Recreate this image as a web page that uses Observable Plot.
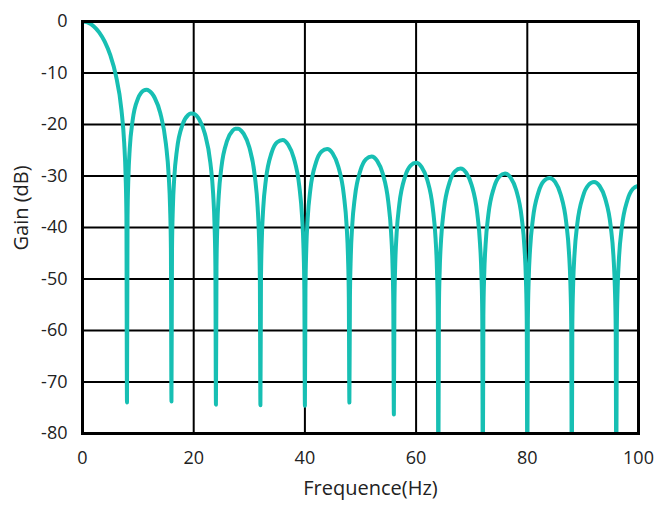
<!DOCTYPE html>
<html>
<head>
<meta charset="utf-8">
<script src="https://cdn.jsdelivr.net/npm/d3@7"></script>
<script src="https://cdn.jsdelivr.net/npm/@observablehq/plot@0.6"></script>
<style>
  html, body { margin: 0; padding: 0; background: #fff; }
</style>
</head>
<body>
<div id="chart"></div>
<script>
// Frequency (Hz) and gain (dB)
const freq = [
  0, 0.5, 1, 2, 3, 4, 5, 6, 7, 7.5, 7.75, 7.9,
  8, 8.1, 8.25, 8.5, 9, 10, 10.5, 11, 11.5, 12, 12.5, 13, 14, 15, 15.5, 15.75, 15.9,
  16, 16.1, 16.25, 16.5, 17, 18, 19, 19.5, 20, 20.5, 21, 22, 23, 23.5, 23.75, 23.9,
  24, 24.1, 24.25, 24.5, 25, 26, 27, 27.5, 28, 28.5, 29, 30, 31, 31.5, 31.75, 31.9,
  32, 32.1, 32.25, 32.5, 33, 34, 35, 36, 37, 38, 39, 39.5, 39.75, 39.9,
  40, 40.1, 40.25, 40.5, 41, 42, 43, 44, 45, 46, 47, 47.5, 47.75, 47.9,
  48, 48.1, 48.25, 48.5, 49, 50, 51, 52, 53, 54, 55, 55.5, 55.75, 55.9,
  56, 56.1, 56.25, 56.5, 57, 58, 59, 60, 61, 62, 63, 63.5, 63.75, 63.9,
  64, 64.1, 64.25, 64.5, 65, 66, 67, 68, 69, 70, 71, 71.5, 71.75, 71.9,
  72, 72.1, 72.25, 72.5, 73, 74, 75, 76, 77, 78, 79, 79.5, 79.75, 79.9,
  80, 80.1, 80.25, 80.5, 81, 82, 83, 84, 85, 86, 87, 87.5, 87.75, 87.9,
  88, 88.1, 88.25, 88.5, 89, 90, 91, 92, 93, 94, 95, 95.5, 95.75, 95.9,
  96, 96.1, 96.25, 96.5, 97, 98, 99, 100
];
const gain = [
  0, -0.06, -0.22, -0.91, -2.11, -3.92, -6.55, -10.45, -17.13, -23.58, -29.84, -37.95,
  -74.0, -38.17, -30.38, -24.66, -19.30, -14.89, -13.91, -13.40, -13.26, -13.46, -13.99, -14.85, -17.81, -23.74, -29.88, -36.00, -44.03,
  -73.8, -44.14, -36.27, -30.42, -24.83, -20.00, -18.15, -17.85, -17.90, -18.29, -19.01, -21.74, -27.45, -33.49, -39.56, -47.57,
  -74.4, -47.64, -39.74, -33.85, -28.18, -23.19, -21.20, -20.84, -20.82, -21.15, -21.82, -24.43, -30.05, -36.04, -42.08, -50.08,
  -74.5, -50.13, -42.22, -36.31, -30.59, -25.52, -23.45, -23.01, -23.93, -26.49, -32.04, -38.00, -44.04, -52.02,
  -74.6, -52.06, -44.15, -38.22, -32.48, -27.36, -25.24, -24.75, -25.63, -28.15, -33.66, -39.60, -45.63, -53.61,
  -74.0, -53.64, -45.72, -39.78, -34.02, -28.87, -26.72, -26.20, -27.06, -29.54, -35.03, -40.96, -46.97, -54.95,
  -76.3, -54.98, -47.05, -41.11, -35.34, -30.16, -27.99, -27.44, -28.28, -30.74, -36.21, -42.13, -48.14, -56.11,
  -90, -56.14, -48.21, -42.26, -36.48, -31.28, -29.09, -28.53, -29.35, -31.79, -37.25, -43.16, -49.17, -57.13,
  -90, -57.16, -49.23, -43.28, -37.49, -32.27, -30.07, -29.50, -30.30, -32.73, -38.17, -44.08, -50.08, -58.05,
  -90, -58.07, -50.14, -44.19, -38.39, -33.17, -30.95, -30.37, -31.16, -33.58, -39.01, -44.91, -50.92, -58.88,
  -90, -58.90, -50.96, -45.01, -39.21, -33.97, -31.75, -31.16, -31.94, -34.35, -39.77, -45.67, -51.67, -59.64,
  -90, -59.65, -51.72, -45.76, -39.96, -34.71, -32.48, -31.88
];
const xTicks = [0, 20, 40, 60, 80, 100];
const yTicks = [0, -10, -20, -30, -40, -50, -60, -70, -80];
const xGrid = [20, 40, 60, 80];
const yGrid = [-10, -20, -30, -40, -50, -60, -70];
const xTitle = "Frequence(Hz)";
const yTitle = "Gain (dB)";

const data = freq.map((f, i) => ({f, g: gain[i]}));

const chart = Plot.plot({
  width: 663,
  height: 505,
  marginLeft: 82,
  marginRight: 25,
  marginTop: 21,
  marginBottom: 72,
  style: {fontFamily: "'Open Sans', Roboto, sans-serif", fontSize: "18px", color: "#222", background: "#fff"},
  x: {domain: [0, 100]},
  y: {domain: [-80, 0]},
  marks: [
    Plot.gridX(xGrid, {stroke: "#000", strokeOpacity: 1, strokeWidth: 2}),
    Plot.gridY(yGrid, {stroke: "#000", strokeOpacity: 1, strokeWidth: 2}),
    Plot.line(data, {x: "f", y: "g", stroke: "#17bfb3", strokeWidth: 4, curve: "monotone-x", clip: true}),
    Plot.frame({stroke: "#000", strokeWidth: 3}),
    Plot.axisX(xTicks, {tickSize: 0, tickPadding: 18, label: null, fontSize: 18}),
    Plot.axisY(yTicks, {tickSize: 0, tickPadding: 15, label: null, fontSize: 18, tickFormat: d => String(d)}),
    Plot.text([xTitle], {text: d => d, frameAnchor: "bottom", dx: 10, dy: 61, fontSize: 20, fill: "#222"}),
    Plot.text([yTitle], {text: d => d, frameAnchor: "left", dx: -61, dy: 23, rotate: -90, fontSize: 20, fill: "#222"})
  ]
});
document.getElementById("chart").appendChild(chart);
</script>
</body>
</html>
